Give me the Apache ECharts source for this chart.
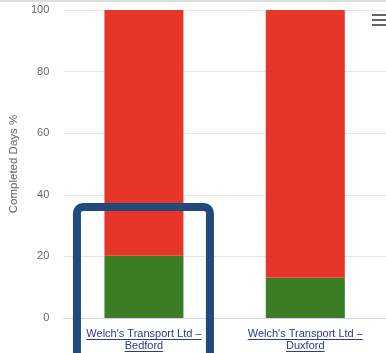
<!DOCTYPE html>
<html>
<head>
<meta charset="utf-8">
<script src="https://cdn.jsdelivr.net/npm/echarts@6/dist/echarts.min.js"></script>
<style>
html,body{margin:0;padding:0;background:#fff;}
#c{width:386px;height:353px;}
</style>
</head>
<body>
<div id="c"></div>
<script>
const categories = ["Welch's Transport Ltd –\nBedford", "Welch's Transport Ltd –\nDuxford"];
const completedValues = [20.2, 13.1];
const notCompletedValues = [79.8, 86.9];
const yAxisTitle = "Completed Days %";

const FONT = "'Liberation Sans', Arial, sans-serif";
const LABEL_MARGIN = 10;
const LABEL_LH = 12;
const LINK = '#2b3a8f';

const chart = echarts.init(document.getElementById('c'), null, {renderer: 'canvas'});
const option = {
  animation: false,
  backgroundColor: '#ffffff',
  grid: {left: 63, top: 10, width: 326, height: 308, containLabel: false},
  xAxis: {
    type: 'category',
    data: categories,
    axisLine: {show: true, lineStyle: {color: '#ccd6eb', width: 1}},
    axisTick: {show: false},
    axisLabel: {
      margin: LABEL_MARGIN,
      fontFamily: FONT,
      fontSize: 11,
      lineHeight: LABEL_LH,
      color: LINK,
      interval: 0
    }
  },
  yAxis: {
    type: 'value',
    min: 0, max: 100, interval: 20,
    name: yAxisTitle,
    nameLocation: 'middle',
    nameGap: 40,
    nameTextStyle: {fontFamily: FONT, fontSize: 11.5, color: '#666666'},
    axisLine: {show: false},
    axisTick: {show: false},
    axisLabel: {margin: 14, fontFamily: FONT, fontSize: 11, color: '#666666'},
    splitLine: {lineStyle: {color: '#e6e6e6', width: 1}}
  },
  series: [
    {name: 'Completed', type: 'bar', stack: 'days', barWidth: 79,
     data: completedValues, itemStyle: {color: '#3a7d23'}},
    {name: 'Not completed', type: 'bar', stack: 'days', barWidth: 79,
     data: notCompletedValues, itemStyle: {color: '#e8352a'}}
  ]
};
chart.setOption(option);

// decorations: underlines for link-styled labels, menu icon, top border, highlight box
const ctx = document.createElement('canvas').getContext('2d');
ctx.font = "11px 'Liberation Sans'";
const axisY = chart.convertToPixel({yAxisIndex: 0}, 0);
const graphics = [];
categories.forEach((cat, i) => {
  const cx = chart.convertToPixel({xAxisIndex: 0}, i);
  cat.split('\n').forEach((line, j) => {
    const w = ctx.measureText(line).width;
    const y = Math.round(axisY + LABEL_MARGIN + LABEL_LH * j + LABEL_LH / 2 + 5) + 0.5;
    graphics.push({type: 'line', silent: true,
      shape: {x1: cx - w / 2, y1: y, x2: cx + w / 2, y2: y},
      style: {stroke: LINK, lineWidth: 1}});
  });
});
graphics.push({type: 'rect', silent: true, shape: {x: 0, y: 0, width: 386, height: 2}, style: {fill: '#dedede'}});
[14, 19, 24].forEach(y => graphics.push({type: 'rect', silent: true,
  shape: {x: 372, y: y, width: 16, height: 2}, style: {fill: '#666666'}}));
const box1 = chart.convertToPixel({xAxisIndex: 0}, 0);
graphics.push({type: 'rect', silent: true, z: 100,
  shape: {x: box1 - 67, y: 207, width: 133, height: 200, r: 6},
  style: {fill: 'none', stroke: '#1f4a7a', lineWidth: 8}});
chart.setOption({graphic: graphics});
</script>
</body>
</html>
